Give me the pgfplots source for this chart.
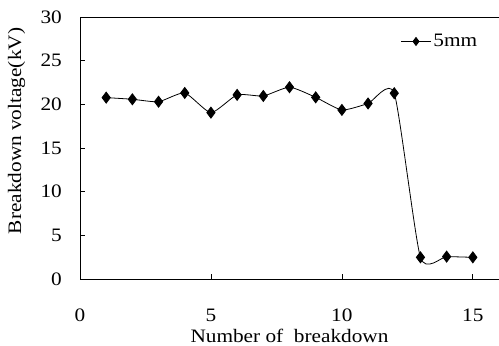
\documentclass[border=0pt]{standalone}
\usepackage{fontspec}
\setmainfont[FakeStretch=1.12]{Liberation Serif}
\usepackage{pgfplots}
\pgfplotsset{compat=1.18}
\begin{document}
\fontsize{19pt}{22pt}\selectfont
\begin{tikzpicture}
\begin{axis}[
  scale only axis,
  width=419pt, height=262pt,
  xmin=0, xmax=16, ymin=0, ymax=30,
  xtick={0,5,10,15}, ytick={0,5,10,15,20,25,30},
  tick align=inside,
  xtick pos=bottom, ytick pos=left,
  major tick length=5pt,
  axis line style={line width=0.9pt},
  tick style={line width=0.7pt, black},
  /pgf/number format/assume math mode=true,
  xticklabel style={anchor=base, yshift=-43pt, inner sep=0pt},
  yticklabel style={anchor=east, xshift=-18pt, inner sep=0pt},
  xlabel={Number of\ \ breakdown},
  ylabel={Breakdown voltage(kV)},
  xlabel style={at={(axis description cs:0.5,-0.2405)}, anchor=base, inner sep=0pt},
  ylabel style={at={(axis description cs:-0.1408,0.565)}, anchor=base, inner sep=0pt},
  legend style={at={(axis cs:15.25,27.2)}, anchor=east, draw=none, fill=none, inner sep=0pt,
    font=\fontsize{19pt}{22pt}\selectfont},
  legend cell align=left,
  legend image code/.code={
    \draw[mark repeat=2, mark phase=2, mark size=4pt] plot coordinates {(0pt,0pt) (15pt,0pt) (30pt,0pt)};
  },
]
\addplot[black, line width=0.8pt, smooth, tension=0.35, mark=diamond*, mark size=5.5pt,
  mark options={solid, fill=black}] coordinates {
  (1,20.77) (2,20.58) (3,20.30) (4,21.30) (5,19.05) (6,21.08) (7,20.96)
  (8,21.96) (9,20.80) (10,19.36) (11,20.10) (12,21.27) (13,2.48) (14,2.56) (15,2.48)
};
\addlegendentry{5mm}
\coordinate (bl) at (rel axis cs:0,0);
\coordinate (tr) at (rel axis cs:1,1);
\end{axis}
\pgfresetboundingbox
\path[use as bounding box] ([shift={(-80pt,-67pt)}]bl) rectangle ([shift={(0pt,17pt)}]tr);
\end{tikzpicture}
\end{document}
